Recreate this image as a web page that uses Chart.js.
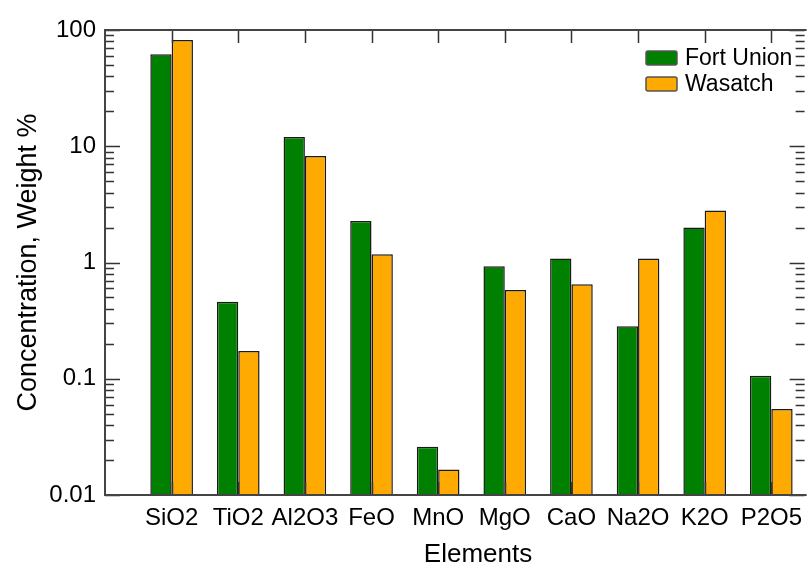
<!DOCTYPE html>
<html>
<head>
<meta charset="utf-8">
<script src="https://cdn.jsdelivr.net/npm/chart.js@4"></script>
<style>
  html, body { margin: 0; padding: 0; background: #fff; overflow: hidden; }
  #wrap { width: 811px; height: 565px; }
</style>
</head>
<body>
<div id="wrap"><canvas id="chart" width="811" height="565"></canvas></div>
<script>
// data (weight %)
const categories = ['SiO2', 'TiO2', 'Al2O3', 'FeO', 'MnO', 'MgO', 'CaO', 'Na2O', 'K2O', 'P2O5'];
const fortUnion = [61.8, 0.46, 12.0, 2.27, 0.026, 0.93, 1.08, 0.283, 2.0, 0.106];
const wasatch = [82, 0.173, 8.26, 1.18, 0.0166, 0.58, 0.65, 1.08, 2.8, 0.055];
const seriesNames = ['Fort Union', 'Wasatch'];
const yTickValues = [0.01, 0.1, 1, 10, 100];
const yTickLabels = ['0.01', '0.1', '1', '10', '100'];
const xTitle = 'Elements';
const yTitle = 'Concentration, Weight %';

const FONT = '"Liberation Sans", Arial, sans-serif';

// bars sit on a numeric x axis so the first category can be one slot in from the frame
const toPoints = arr => arr.map((v, i) => ({ x: i + 1, y: v }));

// ticks + frame + legend + x title, all placed through the chart's scales
const frameTicks = {
  id: 'frameTicks',
  afterDatasetsDraw(chart) {
    const { ctx, chartArea: a, scales } = chart;
    const y = scales.y, x = scales.x;
    ctx.save();
    ctx.strokeStyle = '#333';
    ctx.lineWidth = 1.5;
    ctx.beginPath();
    // log ticks left and right, pointing inward
    for (let e = -2; e <= 2; e++) {
      for (let s = 1; s <= 9; s++) {
        const v = s * Math.pow(10, e);
        if (v > 100.0001) break;
        const py = Math.round(y.getPixelForValue(v)) + 0.5;
        const len = s === 1 ? 15 : 9;
        ctx.moveTo(a.left, py); ctx.lineTo(a.left + len, py);
        ctx.moveTo(a.right, py); ctx.lineTo(a.right - len, py);
      }
    }
    // category ticks at top and bottom
    categories.forEach((c, i) => {
      const px = Math.round(x.getPixelForValue(i + 1)) + 0.5;
      ctx.moveTo(px, a.top); ctx.lineTo(px, a.top + 13);
      ctx.moveTo(px, a.bottom); ctx.lineTo(px, a.bottom - 13);
    });
    ctx.stroke();

    // frame (right edge falls off the canvas)
    ctx.strokeStyle = '#444';
    ctx.lineWidth = 2;
    ctx.beginPath();
    ctx.moveTo(a.right + 2, a.top); ctx.lineTo(a.left, a.top);
    ctx.lineTo(a.left, a.bottom); ctx.lineTo(a.right + 2, a.bottom);
    ctx.stroke();

    // legend, top right inside the plot
    ctx.font = '23px ' + FONT;
    ctx.textBaseline = 'middle';
    ctx.textAlign = 'left';
    chart.data.datasets.forEach((ds, i) => {
      const by = 51 + i * 26;
      ctx.beginPath();
      ctx.roundRect(646, by, 31, 14, 2);
      ctx.fillStyle = ds.backgroundColor;
      ctx.fill();
      ctx.strokeStyle = '#555';
      ctx.lineWidth = 1.5;
      ctx.stroke();
      ctx.fillStyle = '#000';
      ctx.fillText(ds.label, 685, by + 8);
    });

    // x title: in the source it is centred a bit right of the visible plot
    ctx.font = '26px ' + FONT;
    ctx.textAlign = 'center';
    ctx.textBaseline = 'alphabetic';
    ctx.fillText(xTitle, 478, 562);
    ctx.restore();
  }
};

new Chart(document.getElementById('chart'), {
  type: 'bar',
  data: {
    datasets: [
      {
        label: seriesNames[0],
        data: toPoints(fortUnion),
        backgroundColor: '#008000',
        borderColor: '#1a1a1a',
        borderWidth: 1.5,
        borderSkipped: 'bottom'
      },
      {
        label: seriesNames[1],
        data: toPoints(wasatch),
        backgroundColor: '#ffaa00',
        borderColor: '#1a1a1a',
        borderWidth: 1.5,
        borderSkipped: 'bottom'
      }
    ]
  },
  options: {
    responsive: false,
    animation: false,
    events: [],
    categoryPercentage: 0.64,
    barPercentage: 1.0,
    layout: { padding: { top: 30, right: 0, left: 0, bottom: 0 } },
    plugins: {
      legend: { display: false },
      tooltip: { enabled: false }
    },
    scales: {
      x: {
        type: 'linear',
        min: 0,
        max: 10.5,
        offset: false,
        grid: { display: false, drawTicks: false },
        border: { display: false },
        afterFit: s => { s.height = 70; },
        ticks: {
          stepSize: 1,
          includeBounds: false,
          autoSkip: false,
          maxRotation: 0,
          padding: 9,
          color: '#000',
          font: { family: FONT, size: 24 },
          callback: v => categories[v - 1] || ''
        }
      },
      y: {
        type: 'logarithmic',
        min: 0.01,
        max: 100,
        grid: { display: false, drawTicks: false },
        border: { display: false },
        afterFit: s => { s.width = 105; },
        afterBuildTicks: s => { s.ticks = yTickValues.map(v => ({ value: v })); },
        ticks: {
          padding: 9,
          color: '#000',
          font: { family: FONT, size: 24 },
          callback: v => yTickLabels[yTickValues.indexOf(v)]
        },
        title: {
          display: true,
          text: yTitle,
          color: '#000',
          padding: { top: 12, bottom: 0 },
          font: { family: FONT, size: 27 }
        }
      }
    }
  },
  plugins: [frameTicks]
});
</script>
</body>
</html>
